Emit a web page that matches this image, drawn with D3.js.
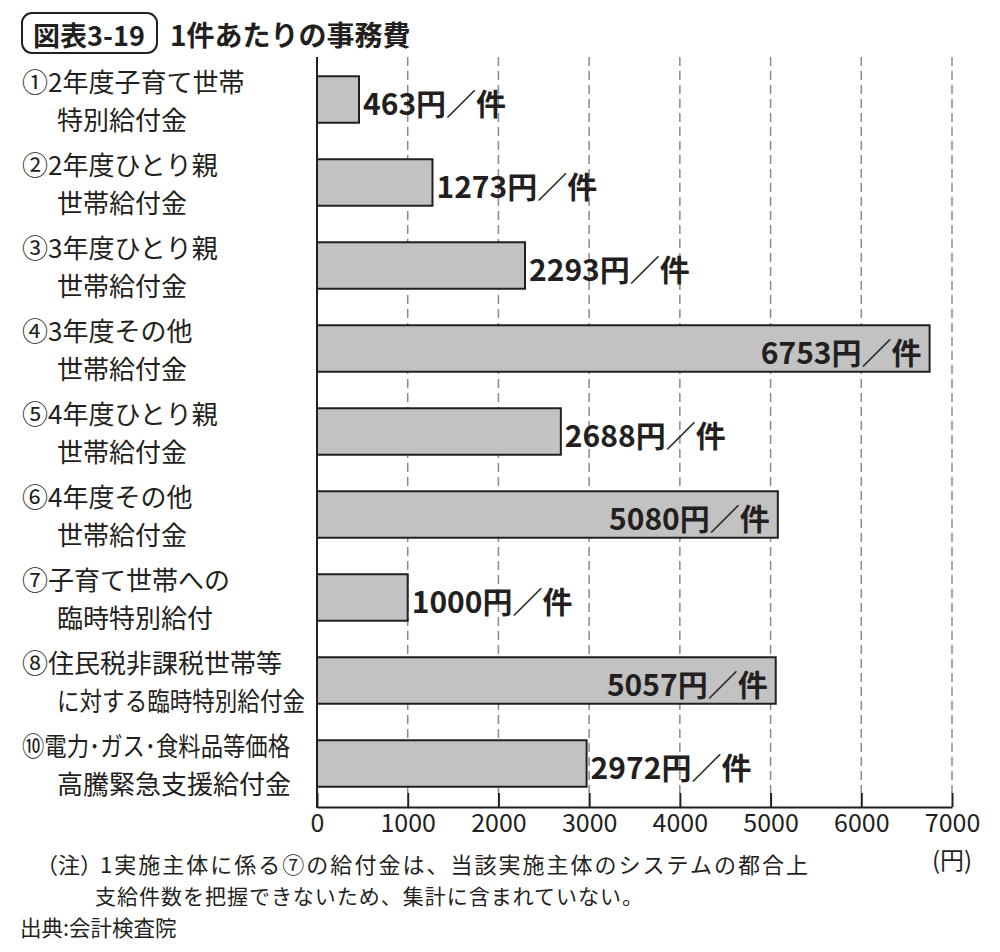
<!DOCTYPE html>
<html>
<head>
<meta charset="utf-8">
<script src="https://cdn.jsdelivr.net/npm/d3@7"></script>
<style>
  body { margin: 0; background: #fff; }
  text { font-family: "Noto Sans CJK JP", "Noto Sans", sans-serif; fill: #231f20; }
</style>
</head>
<body>
<svg id="chart" width="1000" height="952"></svg>
<script>

// data
let categoryLine1 = ["①2年度子育て世帯", "②2年度ひとり親", "③3年度ひとり親", "④3年度その他",
    "⑤4年度ひとり親", "⑥4年度その他", "⑦子育て世帯への", "⑧住民税非課税世帯等", "⑩電力･ガス･食料品等価格"];
let categoryLine2 = ["特別給付金", "世帯給付金", "世帯給付金", "世帯給付金",
    "世帯給付金", "世帯給付金", "臨時特別給付", "に対する臨時特別給付金", "高騰緊急支援給付金"];
let costPerCase = [463, 1273, 2293, 6753, 2688, 5080, 1000, 5057, 2972];
let xTicks = [0, 1000, 2000, 3000, 4000, 5000, 6000, 7000];
let notes = ["1実施主体に係る⑦の給付金は、当該実施主体のシステムの都合上",
    "支給件数を把握できないため、集計に含まれていない。"];

function makeChart(id) {
    let chart = d3.select("#" + id);
    let ink = "#231f20";

    let dataset = costPerCase.map((v, i) => ({key: categoryLine1[i], l1: categoryLine1[i], l2: categoryLine2[i], value: v}));

    let xScale = d3.scaleLinear().domain([0, 7000]).range([317, 952]);
    let yScale = d3.scaleBand().domain(dataset.map(d => d.key)).range([58, 805])
        .paddingInner(0.44).paddingOuter(0.22);

    // title
    chart.append("rect")
        .attr("x", 22).attr("y", 13).attr("width", 135).attr("height", 40)
        .attr("rx", 10)
        .style("fill", "none").style("stroke", ink).style("stroke-width", 2);
    chart.append("text")
        .attr("x", 89).attr("y", 34)
        .attr("text-anchor", "middle").attr("dominant-baseline", "central")
        .style("font-size", "27px").style("font-weight", "bold")
        .text("図表3-19");
    chart.append("text")
        .attr("x", 170).attr("y", 34)
        .attr("dominant-baseline", "central")
        .style("font-size", "28px").style("font-weight", "bold")
        .text("1件あたりの事務費");

    // dashed grid
    chart.append("g").selectAll("line")
        .data(xTicks.filter(t => t > 0)).enter().append("line")
        .attr("x1", d => xScale(d)).attr("x2", d => xScale(d))
        .attr("y1", 57).attr("y2", 793)
        .style("stroke", "#8a8a8a").style("stroke-width", 1.5)
        .style("stroke-dasharray", "9,5");

    // bottom axis
    let axis = chart.append("g")
        .attr("transform", "translate(0,807)")
        .call(d3.axisBottom(xScale).tickValues(xTicks).tickFormat(d3.format("d"))
            .tickSize(-14).tickSizeOuter(0).tickPadding(7));
    axis.select(".domain").style("stroke", ink).style("stroke-width", 2);
    axis.selectAll(".tick line").style("stroke", ink).style("stroke-width", 2);
    axis.selectAll(".tick text")
        .style("font-size", "25px").style("font-family", "'Noto Sans CJK JP', sans-serif")
        .style("fill", ink);

    chart.append("text")
        .attr("x", 952).attr("y", 858)
        .attr("text-anchor", "middle").attr("dominant-baseline", "central")
        .style("font-size", "24px")
        .text("(円)");

    // bars
    chart.selectAll(".bar").data(dataset).enter().append("rect").attr("class", "bar")
        .attr("x", xScale(0))
        .attr("y", d => yScale(d.key))
        .attr("width", d => xScale(d.value) - xScale(0))
        .attr("height", yScale.bandwidth())
        .style("fill", "#c2c2c2").style("stroke", ink).style("stroke-width", 2);

    // left axis line
    chart.append("line")
        .attr("x1", xScale(0)).attr("x2", xScale(0))
        .attr("y1", 57).attr("y2", 808)
        .style("stroke", ink).style("stroke-width", 2);

    // value labels
    chart.selectAll(".val").data(dataset).enter().append("text").attr("class", "val")
        .attr("x", d => d.value >= 5000 ? xScale(d.value) - 8 : xScale(d.value) + 4)
        .attr("y", d => yScale(d.key) + yScale.bandwidth() / 2 + 2)
        .attr("text-anchor", d => d.value >= 5000 ? "end" : "start")
        .attr("dominant-baseline", "central")
        .style("font-size", "30px").style("font-weight", "bold")
        .text(d => d.value + "円／件");

    // category labels, squeezed when too long
    function squeeze(sel, maxRight) {
        sel.each(function () {
            let x = +this.getAttribute("x");
            let w = this.getComputedTextLength();
            if (x + w > maxRight) {
                d3.select(this).attr("textLength", maxRight - x).attr("lengthAdjust", "spacingAndGlyphs");
            }
        });
    }
    let cat = chart.selectAll(".cat").data(dataset).enter().append("g").attr("class", "cat");
    cat.append("text")
        .attr("x", 22)
        .attr("y", d => yScale(d.key) + yScale.bandwidth() / 2 - 19)
        .attr("dominant-baseline", "central")
        .style("font-size", "26px")
        .text(d => d.l1)
        .call(squeeze, 290);
    cat.append("text")
        .attr("x", 57)
        .attr("y", d => yScale(d.key) + yScale.bandwidth() / 2 + 19)
        .attr("dominant-baseline", "central")
        .style("font-size", "26px")
        .text(d => d.l2)
        .call(squeeze, 305);

    // notes
    chart.append("text")
        .attr("x", 36).attr("y", 863).attr("dominant-baseline", "central")
        .style("font-size", "22px").text("（注）");
    chart.append("text")
        .attr("x", 100).attr("y", 863).attr("dominant-baseline", "central")
        .attr("textLength", 708).attr("lengthAdjust", "spacing")
        .style("font-size", "22px").text(notes[0]);
    chart.append("text")
        .attr("x", 95).attr("y", 895).attr("dominant-baseline", "central")
        .attr("textLength", 548).attr("lengthAdjust", "spacing")
        .style("font-size", "21px").text(notes[1]);
    chart.append("text")
        .attr("x", 20).attr("y", 926).attr("dominant-baseline", "central")
        .style("font-size", "21.5px").text("出典:会計検査院");
}

makeChart("chart");
</script>
</body>
</html>
